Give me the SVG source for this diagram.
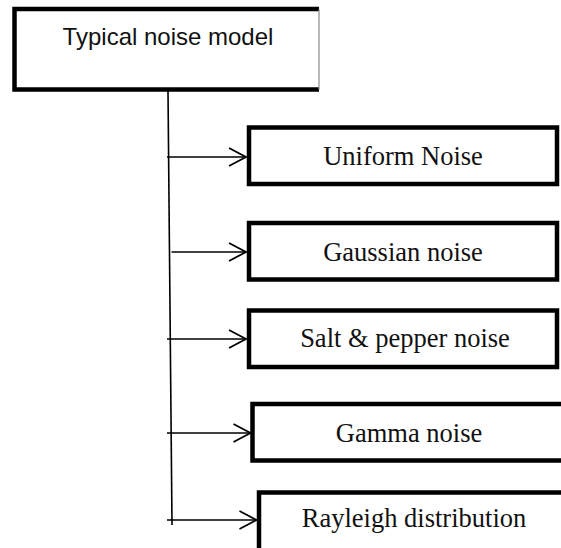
<svg xmlns="http://www.w3.org/2000/svg" width="561" height="548" viewBox="0 0 561 548">
  <style>
    .frame { fill: #ffffff; stroke: #000000; stroke-width: 4.5; }
    .root-text { font-family: "Liberation Sans", Arial, sans-serif; font-size: 24px; fill: #111111; text-anchor: middle; }
    .leaf-text { font-family: "Liberation Serif", "Times New Roman", serif; font-size: 26.5px; fill: #111111; text-anchor: middle; }
    .wire { stroke: #000000; stroke-width: 1.6; fill: none; }
  </style>
  <defs>
    <marker id="open-arrow" markerUnits="userSpaceOnUse" markerWidth="24" markerHeight="24" viewBox="-20 -12 24 24" refX="0" refY="0" orient="auto" overflow="visible">
      <path d="M-17,-9 L0,0 L-17,9" fill="none" stroke="#000000" stroke-width="1.8" stroke-linejoin="miter"/>
    </marker>
  </defs>
  <rect width="561" height="548" fill="#ffffff"/>

  <!-- root node: thick border on three sides, hairline on the right -->
  <g id="node-typical-noise-model">
    <rect x="14.5" y="9" width="304.5" height="80.5" fill="#ffffff"/>
    <path d="M319,9 H14.5 V89.5 H319" fill="none" stroke="#000000" stroke-width="4.5"/>
    <line x1="319" y1="9" x2="319" y2="89.5" stroke="#8a8a8a" stroke-width="1.2"/>
    <text class="root-text" x="168" y="45">Typical noise model</text>
  </g>

  <!-- connectors: trunk line and one branch per noise type -->
  <g id="connectors">
    <line class="wire" x1="168" y1="91" x2="172" y2="525" stroke-width="1.4"/>
    <line class="wire" x1="167" y1="157" x2="246" y2="157" marker-end="url(#open-arrow)"/>
    <line class="wire" x1="171.5" y1="252" x2="246" y2="252" marker-end="url(#open-arrow)"/>
    <line class="wire" x1="167" y1="339" x2="246" y2="339" marker-end="url(#open-arrow)"/>
    <line class="wire" x1="167" y1="433" x2="250.5" y2="433" marker-end="url(#open-arrow)"/>
    <line class="wire" x1="167" y1="520" x2="256.5" y2="520" marker-end="url(#open-arrow)"/>
  </g>

  <g id="node-uniform-noise">
    <rect class="frame" x="249" y="127.5" width="308" height="56.5"/>
    <text class="leaf-text" x="403" y="165">Uniform Noise</text>
  </g>

  <g id="node-gaussian-noise">
    <rect class="frame" x="249" y="223" width="308" height="56.5"/>
    <text class="leaf-text" x="403" y="261">Gaussian noise</text>
  </g>

  <g id="node-salt-pepper-noise">
    <rect class="frame" x="249" y="310.5" width="308" height="56.5"/>
    <text class="leaf-text" x="405" y="347">Salt &amp; pepper noise</text>
  </g>

  <g id="node-gamma-noise">
    <rect class="frame" x="252.5" y="404" width="330" height="56.5"/>
    <text class="leaf-text" x="409" y="442">Gamma noise</text>
  </g>

  <g id="node-rayleigh-distribution">
    <rect class="frame" x="259" y="492.5" width="330" height="70"/>
    <text class="leaf-text" x="414" y="527">Rayleigh distribution</text>
  </g>
</svg>
